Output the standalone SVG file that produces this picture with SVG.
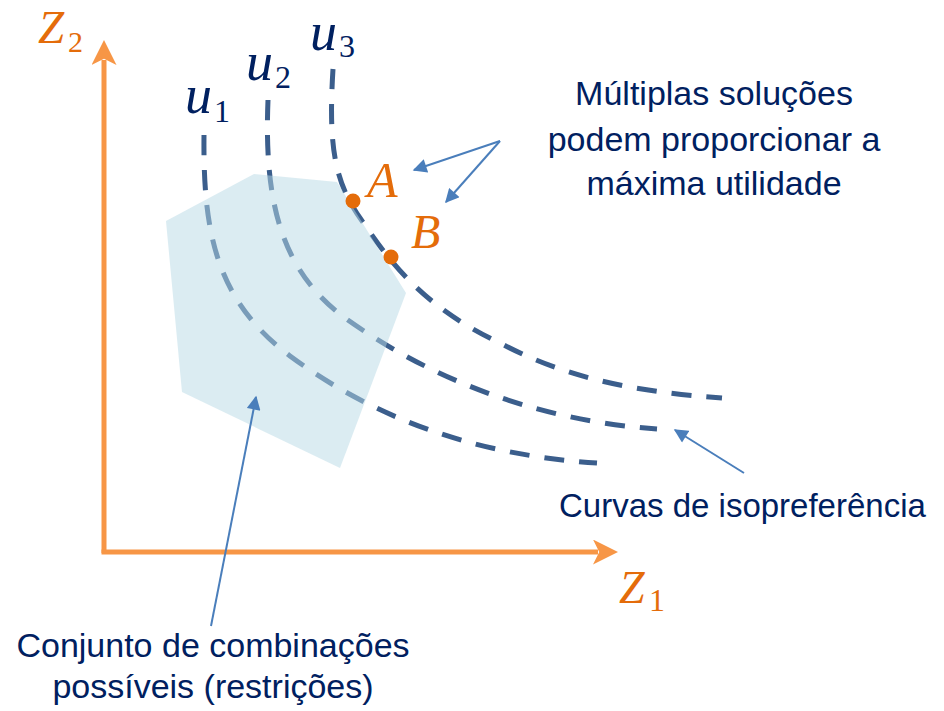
<svg xmlns="http://www.w3.org/2000/svg" width="944" height="711" viewBox="0 0 944 711">
<style>
.math{font-family:"Liberation Serif","DejaVu Serif",serif;font-style:italic;}
.sub{font-family:"Liberation Serif","DejaVu Serif",serif;font-style:normal;}
.orange{fill:#E46C0A;}
.navy{fill:#002060;}
.lbl{font-family:"Liberation Sans",Arial,sans-serif;font-size:34px;fill:#002060;}
.lbl33{font-size:33px;}
.curve{fill:none;stroke:#3B5E8C;stroke-width:5;stroke-dasharray:20 15;}
.axis{fill:none;stroke:#F79646;stroke-width:5;}
.ptr{fill:none;stroke:#4A7EBB;stroke-width:2;}
</style>
<defs>
<marker id="axhead" viewBox="0 0 10 10" refX="2" refY="5" markerWidth="5" markerHeight="5" orient="auto" markerUnits="strokeWidth">
<path d="M0,0 L10,5 L0,10 L2.5,5 Z" fill="#F79646"/>
</marker>
<marker id="bluehead" viewBox="0 0 10 10" refX="9" refY="5" markerWidth="7.5" markerHeight="7" orient="auto" markerUnits="strokeWidth">
<path d="M0,0 L10,5 L0,10 Z" fill="#4A7EBB"/>
</marker>
</defs>
<rect width="944" height="711" fill="#ffffff"/>

<g id="axes">
<path class="axis" d="M104,553 L104,60" marker-end="url(#axhead)"/>
<path class="axis" d="M101.5,552 L598,552" marker-end="url(#axhead)"/>
<text class="math orange" x="38" y="43" font-size="47">Z</text>
<text class="sub orange" x="68" y="52" font-size="30">2</text>
<text class="math orange" x="619" y="603" font-size="46">Z</text>
<text class="sub orange" x="649" y="611" font-size="32">1</text>
</g>

<g id="curves">
<path id="u1" class="curve" d="M204,135 C203,230 215,300 290,356 C370,415 470,455 597,463"/>
<path id="u2" class="curve" d="M268,100 C264,200 280,270 345,318 C425,375 530,420 657,429"/>
<path id="u3" class="curve" d="M333,69 C328,150 335,185 365,225 C395,270 430,310 500,343 C570,380 640,392 722,398"/>
<text class="math navy" x="185" y="113" font-size="54">u</text>
<text class="sub navy" x="214" y="122" font-size="32">1</text>
<text class="math navy" x="246" y="80" font-size="54">u</text>
<text class="sub navy" x="275" y="88" font-size="32">2</text>
<text class="math navy" x="310" y="50" font-size="54">u</text>
<text class="sub navy" x="339" y="57" font-size="32">3</text>
</g>

<g id="feasible">
<polygon points="166,221 254,174 337,182 406,293 340,468 182,392" fill="#B7D9E6" fill-opacity="0.5"/>
</g>

<g id="pointA">
<circle cx="353" cy="201" r="7.5" fill="#E46C0A"/>
<text class="math orange" x="367" y="197" font-size="50">A</text>
</g>
<g id="pointB">
<circle cx="391" cy="257" r="7.5" fill="#E46C0A"/>
<text class="math orange" x="411" y="248" font-size="48">B</text>
</g>

<g id="connectors">
<path class="ptr" d="M500,141 L414,170" marker-end="url(#bluehead)"/>
<path class="ptr" d="M500,141 L446,202" marker-end="url(#bluehead)"/>
<path class="ptr" d="M744,473 L675,430" marker-end="url(#bluehead)"/>
<path class="ptr" d="M211,626 L256,397" marker-end="url(#bluehead)"/>
</g>

<g id="label-multiplas">
<text class="lbl" text-anchor="middle" x="714" y="105">Múltiplas soluções</text>
<text class="lbl" text-anchor="middle" x="714" y="151">podem proporcionar a</text>
<text class="lbl" text-anchor="middle" x="714" y="195">máxima utilidade</text>
</g>
<g id="label-curvas">
<text class="lbl lbl33" x="559" y="517">Curvas de isopreferência</text>
</g>
<g id="label-conjunto">
<text class="lbl" text-anchor="middle" x="213" y="657">Conjunto de combinações</text>
<text class="lbl" text-anchor="middle" x="213" y="698">possíveis (restrições)</text>
</g>
</svg>
